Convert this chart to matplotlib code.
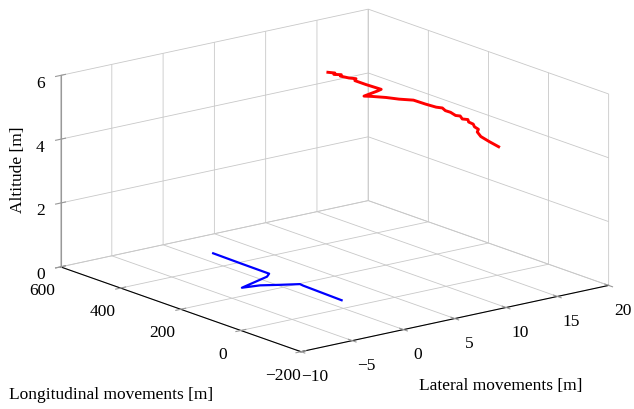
import numpy as np
import matplotlib
matplotlib.use('Agg')
import matplotlib.pyplot as plt

red_lat = [12.2, 12.5, 12.2, 12.6, 12.3, 12.5, 12.8, 12.4, 12.4, 12.5, 12.0, 10.3,
           10.7, 11.4, 11.9, 12.6, 13.2, 13.7, 14.1, 14.1, 14.4, 14.6, 14.9, 14.9,
           15.3, 15.2, 15.5, 15.5, 15.8, 15.6, 15.8, 16.2, 16.6]
red_lon = [468, 455, 448, 437, 430, 408, 395, 385, 348, 301, 296, 283,
           272, 247, 221, 197, 177, 159, 152, 142, 135, 125, 120, 113,
           108, 102, 97, 93, 90, 87, 82, 67, 50]
red_alt = [5.0, 5.0, 5.0, 5.0, 5.0, 5.0, 5.0, 5.0, 5.0, 5.0, 5.0, 5.0,
           5.0, 5.0, 5.0, 5.0, 4.9, 4.83, 4.8, 4.75, 4.7, 4.62, 4.6, 4.53,
           4.5, 4.45, 4.38, 4.31, 4.22, 4.16, 4.02, 3.88, 3.75]

# ground track (blue)
blue_lat = [1.57, 1.5, 1.46, 0.81, -2.6, -1.09, 0.2, 1.54, 1.47, 1.29]
blue_lon = [487, 390, 297, 282, 249, 240, 218, 197, 184, 50]
blue_alt = [0] * len(blue_lat)

x_ticks = [-10, -5, 0, 5, 10, 15, 20]
y_ticks = [-200, 0, 200, 400, 600]
z_ticks = [0, 2, 4, 6]

plt.rcParams['font.family'] = 'Liberation Serif'
plt.rcParams['font.size'] = 12.5
plt.rcParams['axes.unicode_minus'] = True
for k in ('xtick', 'ytick'):
    plt.rcParams[k + '.color'] = '#999999'
    plt.rcParams[k + '.labelcolor'] = 'black'

fig = plt.figure(figsize=(6.34, 4.10), dpi=100)
ax = fig.add_subplot(projection='3d', proj_type='ortho')
ax.set_position([0.019, 0.044, 1, 1])
ax.view_init(elev=16, azim=-128)
ax.set_box_aspect((1, 1, 0.51), zoom=1.39)

ax.plot(red_lat, red_lon, red_alt, color='#ff0000', lw=2.1)
ax.plot(blue_lat, blue_lon, blue_alt, color='#0000ff', lw=1.6)

ax.set_xlim(-10, 20)
ax.set_ylim(-200, 600)
ax.set_zlim(0, 6)
ax.set_xticks(x_ticks)
ax.set_yticks(y_ticks)
ax.set_zticks(z_ticks)
ax.xaxis.set_tick_params(pad=1)
ax.yaxis.set_tick_params(pad=1)
ax.zaxis.set_tick_params(pad=-2.3)

for axis in (ax.xaxis, ax.yaxis, ax.zaxis):
    axis.set_pane_color((1, 1, 1, 0))
    axis.pane.set_edgecolor('#c8c8c8')
    axis._axinfo['grid']['color'] = '#c8c8c8'
    axis._axinfo['grid']['linewidth'] = 0.6
    axis._axinfo['tick']['inward_factor'] = 0.2
    axis._axinfo['tick']['outward_factor'] = 0.2
    axis.line.set_color('black')
    axis.line.set_linewidth(0.8)
ax.zaxis.line.set_color('#999999')

fig.text(0.028, 0.585, 'Altitude [m]', rotation=90, ha='center', va='center')
fig.text(0.175, 0.037, 'Longitudinal movements [m]', ha='center', va='center')
fig.text(0.789, 0.059, 'Lateral movements [m]', ha='center', va='center')

fig.savefig('out.png', dpi=100)
